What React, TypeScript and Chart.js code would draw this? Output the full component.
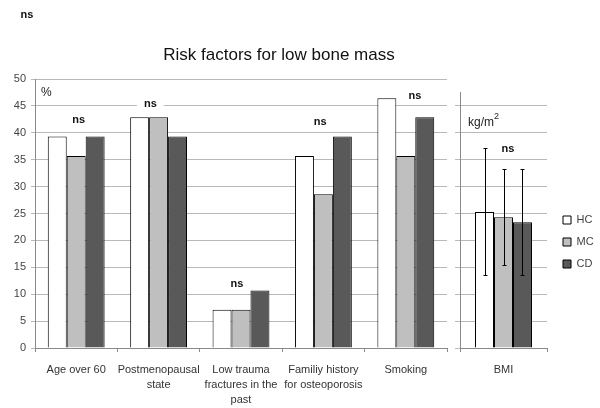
import React, { useEffect, useRef } from "react";
import { Chart, registerables } from "chart.js";

Chart.register(...registerables);

const FONT = "'Liberation Sans', Arial, sans-serif";

// ---- data ----
const categories: string[][] = [
  ["Age over 60"],
  ["Postmenopausal", "state"],
  ["Low trauma", "fractures in the", "past"],
  ["Familiy history", "for osteoporosis"],
  ["Smoking"],
];
const seriesNames = ["HC", "MC", "CD"];
const hcValues = [39.3, 42.9, 7.1, 35.7, 46.4];
const mcValues = [35.7, 42.9, 7.1, 28.6, 35.7];
const cdValues = [39.3, 39.3, 10.7, 39.3, 42.9];
const percentMin = 0;
const percentMax = 50;
const percentStep = 5;

const bmiCategory = ["BMI"];
const bmiMeans = [25.3, 24.3, 23.4];
const bmiLow = [13.5, 15.4, 13.5];
const bmiHigh = [37.1, 33.2, 33.3];
const bmiAxisMax = 47.6;

// "ns" significance marks: value level per group, and horizontal shift (fraction of category)
const nsLevels = [42.3, 45.3, 11.9, 42.0, 46.9];
const nsShift = [0.03, -0.1, -0.05, -0.04, 0.11];
const bmiNsLevel = 37.0;
const bmiNsShift = 0.05;

const seriesColors = ["#ffffff", "#bfbfbf", "#595959"];
const GRID = "#b9b9b9";
const AXIS = "#8a8a8a";

const leftTextPlugin = {
  id: "leftText",
  afterDraw(chart: any) {
    const ctx = chart.ctx;
    const xs = chart.scales.x;
    const ys = chart.scales.y;
    const catW = (chart.chartArea.right - chart.chartArea.left) / categories.length;
    ctx.save();
    ctx.fillStyle = "#111";
    ctx.textBaseline = "middle";
    ctx.textAlign = "center";
    ctx.font = `17px ${FONT}`;
    ctx.fillText("Risk factors for low bone mass", 279, 55);
    ctx.font = `bold 11px ${FONT}`;
    ctx.fillText("ns", 27, 15);
    ctx.textAlign = "left";
    ctx.font = `12px ${FONT}`;
    ctx.fillStyle = "#222";
    ctx.fillText("%", 41, 93);
    ctx.textAlign = "center";
    ctx.font = `bold 11px ${FONT}`;
    nsLevels.forEach((lv, i) => {
      const x = xs.getPixelForValue(i) + nsShift[i] * catW;
      const y = ys.getPixelForValue(lv);
      const w = ctx.measureText("ns").width;
      ctx.fillStyle = "#ffffff";
      ctx.fillRect(x - w / 2 - 7, y - 3, w + 14, 6);
      ctx.fillStyle = "#111";
      ctx.fillText("ns", x, y);
    });
    ctx.restore();
  },
};

const bmiPlugin = {
  id: "bmiExtras",
  afterDatasetsDraw(chart: any) {
    const ctx = chart.ctx;
    const ys = chart.scales.y;
    ctx.save();
    ctx.strokeStyle = "#000";
    ctx.lineWidth = 1;
    chart.data.datasets.forEach((_ds: any, i: number) => {
      const bar = chart.getDatasetMeta(i).data[0];
      if (!bar) return;
      const x = Math.round(bar.x) + 0.5;
      const yHi = Math.round(ys.getPixelForValue(bmiHigh[i])) + 0.5;
      const yLo = Math.round(ys.getPixelForValue(bmiLow[i])) + 0.5;
      ctx.beginPath();
      ctx.moveTo(x, yHi);
      ctx.lineTo(x, yLo);
      ctx.moveTo(x - 2, yHi);
      ctx.lineTo(x + 2, yHi);
      ctx.moveTo(x - 2, yLo);
      ctx.lineTo(x + 2, yLo);
      ctx.stroke();
    });
    ctx.restore();
  },
  afterDraw(chart: any) {
    const ctx = chart.ctx;
    const xs = chart.scales.x;
    const ys = chart.scales.y;
    const left = chart.chartArea.left;
    const catW = chart.chartArea.right - chart.chartArea.left;
    ctx.save();
    ctx.fillStyle = "#222";
    ctx.textBaseline = "middle";
    ctx.textAlign = "left";
    ctx.font = `12px ${FONT}`;
    const base = "kg/m";
    const tx = left + 8;
    ctx.fillText(base, tx, 123);
    const bw = ctx.measureText(base).width;
    ctx.font = `9px ${FONT}`;
    ctx.fillText("2", tx + bw, 117);
    ctx.fillStyle = "#111";
    ctx.textAlign = "center";
    ctx.font = `bold 11px ${FONT}`;
    ctx.fillText("ns", xs.getPixelForValue(0) + bmiNsShift * catW, ys.getPixelForValue(bmiNsLevel));
    ctx.restore();
  },
};

export default function App() {
  const leftRef = useRef<HTMLCanvasElement | null>(null);
  const rightRef = useRef<HTMLCanvasElement | null>(null);

  useEffect(() => {
    document.body.style.margin = "0";
    Chart.defaults.font.family = FONT;
    const seriesData = [hcValues, mcValues, cdValues];
    const left = new Chart(leftRef.current as HTMLCanvasElement, {
      type: "bar",
      data: {
        labels: categories,
        datasets: seriesNames.map((name, i) => ({
          label: name,
          data: seriesData[i],
          backgroundColor: seriesColors[i],
          borderColor: "#000",
          borderWidth: 1,
          categoryPercentage: 0.69,
          barPercentage: 1.0,
        })),
      },
      options: {
        responsive: false,
        animation: false,
        events: [],
        layout: { padding: { left: 0, right: 153, top: 79, bottom: 0 } },
        plugins: { legend: { display: false }, tooltip: { enabled: false }, title: { display: false } },
        scales: {
          x: {
            grid: { display: true, drawOnChartArea: false, tickLength: 4, color: AXIS, offset: true },
            border: { color: AXIS },
            ticks: {
              color: "#333",
              font: { size: 11, lineHeight: "15px" },
              padding: 10,
              maxRotation: 0,
              minRotation: 0,
              autoSkip: false,
            },
            afterFit: (s: any) => {
              s.height = 60;
            },
          },
          y: {
            min: percentMin,
            max: percentMax,
            ticks: { stepSize: percentStep, color: "#444", font: { size: 11 }, padding: 5 },
            grid: { color: GRID, tickLength: 4 },
            border: { color: AXIS },
            afterFit: (s: any) => {
              s.width = 35;
            },
          },
        },
      },
      plugins: [leftTextPlugin],
    } as any);

    const right = new Chart(rightRef.current as HTMLCanvasElement, {
      type: "bar",
      data: {
        labels: bmiCategory,
        datasets: seriesNames.map((name, i) => ({
          label: name,
          data: [bmiMeans[i]],
          backgroundColor: seriesColors[i],
          borderColor: "#000",
          borderWidth: 1,
          categoryPercentage: 0.655,
          barPercentage: 1.0,
        })),
      },
      options: {
        responsive: false,
        animation: false,
        events: [],
        layout: { padding: { left: 0, right: 0, top: 92, bottom: 16 } },
        plugins: {
          tooltip: { enabled: false },
          legend: {
            display: true,
            position: "right",
            maxWidth: 48,
            labels: {
              boxWidth: 8,
              boxHeight: 8,
              padding: 11,
              color: "#444",
              font: { size: 11 },
            },
          },
        },
        scales: {
          x: {
            grid: { display: true, drawOnChartArea: false, tickLength: 4, color: AXIS, offset: true },
            border: { color: AXIS },
            ticks: { color: "#333", font: { size: 11, lineHeight: "15px" }, padding: 10, maxRotation: 0 },
            afterFit: (s: any) => {
              s.height = 44;
            },
          },
          y: {
            min: 0,
            max: bmiAxisMax,
            ticks: { display: false, stepSize: percentStep, includeBounds: false },
            grid: { color: GRID, tickLength: 5 },
            border: { color: AXIS },
            afterFit: (s: any) => {
              s.width = 8;
            },
          },
          gap: {
            type: "linear",
            position: "right",
            display: true,
            grid: { display: false },
            border: { display: false },
            ticks: { display: false },
            afterFit: (s: any) => {
              s.width = 5;
            },
          },
        },
      },
      plugins: [bmiPlugin],
    } as any);

    return () => {
      left.destroy();
      right.destroy();
    };
  }, []);

  return (
    <div style={{ position: "absolute", left: 0, top: 0, width: 600, height: 408, background: "#fff", overflow: "hidden" }}>
      <canvas ref={leftRef} width={600} height={408} style={{ position: "absolute", left: 0, top: 0, width: 600, height: 408 }} />
      <canvas ref={rightRef} width={148} height={408} style={{ position: "absolute", left: 452, top: 0, width: 148, height: 408 }} />
    </div>
  );
}
